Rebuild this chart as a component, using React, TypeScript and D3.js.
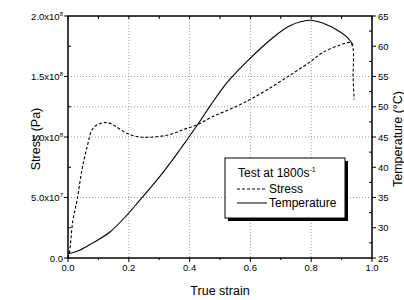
import React from "react";
import * as d3 from "d3";

// stress curve (strain, stress in Pa)
const stressStrain = [0, 0.005, 0.016, 0.03, 0.046, 0.063, 0.079, 0.095, 0.128, 0.155, 0.194, 0.237, 0.28, 0.335, 0.378, 0.424, 0.477, 0.543, 0.599, 0.655, 0.73, 0.796, 0.839, 0.895, 0.928, 0.937, 0.938, 0.941];
const stressVals = [0, 0.05e8, 0.31e8, 0.48e8, 0.73e8, 0.92e8, 1.06e8, 1.1e8, 1.12e8, 1.09e8, 1.03e8, 1.0e8, 1.0e8, 1.02e8, 1.06e8, 1.1e8, 1.17e8, 1.24e8, 1.31e8, 1.39e8, 1.51e8, 1.62e8, 1.7e8, 1.76e8, 1.78e8, 1.74e8, 1.5e8, 1.31e8];

// temperature curve (strain, °C)
const tempStrain = [0, 0.039, 0.082, 0.138, 0.194, 0.237, 0.293, 0.336, 0.368, 0.395, 0.434, 0.467, 0.523, 0.599, 0.664, 0.73, 0.796, 0.839, 0.885, 0.918, 0.938];
const tempVals = [25.7, 26.3, 27.5, 29.3, 32.1, 34.6, 37.9, 40.7, 42.9, 44.8, 47.6, 50.1, 54.0, 58.0, 61.0, 63.4, 64.3, 63.8, 62.7, 61.5, 60.2];

const xTicks = [0, 0.2, 0.4, 0.6, 0.8, 1.0];
const xMinor = [0.1, 0.3, 0.5, 0.7, 0.9];
const stressTicks = [0, 5e7, 1e8, 1.5e8, 2e8];
const stressMant = ["0.0", "5.0", "1.0", "1.5", "2.0"];
const stressExp = ["", "7", "8", "8", "8"];
const stressMinor = [2.5e7, 7.5e7, 1.25e8, 1.75e8];
const tempTicks = [25, 30, 35, 40, 45, 50, 55, 60, 65];
const tempMinor = [27.5, 32.5, 37.5, 42.5, 47.5, 52.5, 57.5, 62.5];
const gridX = [0.2, 0.4, 0.6, 0.8];
const gridStress = [5e7, 1e8, 1.25e8, 1.5e8];

const font = "'Liberation Sans', Arial, sans-serif";

export default function App() {
  const left = 68, right = 372, top = 16, bottom = 258;
  const x = d3.scaleLinear().domain([0, 1]).range([left, right]);
  const yS = d3.scaleLinear().domain([0, 2e8]).range([bottom, top]);
  const yT = d3.scaleLinear().domain([25, 65]).range([bottom, top]);

  const stressLine = d3
    .line<number>()
    .x((d, i) => x(stressStrain[i]))
    .y((d) => yS(d))
    .curve(d3.curveCatmullRom.alpha(0.5));
  const tempLine = d3
    .line<number>()
    .x((d, i) => x(tempStrain[i]))
    .y((d) => yT(d))
    .curve(d3.curveCatmullRom.alpha(0.5));

  const lx = 225, ly = 158, lw = 120, lh = 60;

  return (
    <svg width={404} height={300} style={{ position: "absolute", left: 0, top: 0, background: "#fff" }} fontFamily={font}>
      <rect width={404} height={300} fill="#fff" />
      {/* grid */}
      <g stroke="#888" strokeWidth={0.8} strokeDasharray="1,2">
        {gridX.map((g) => (
          <line key={"gx" + g} x1={x(g)} x2={x(g)} y1={top} y2={bottom} />
        ))}
        {gridStress.map((g) => (
          <line key={"gy" + g} x1={left} x2={right} y1={yS(g)} y2={yS(g)} />
        ))}
      </g>

      {/* curves */}
      <path d={tempLine(tempVals) || ""} fill="none" stroke="#000" strokeWidth={1.1} />
      <path d={stressLine(stressVals) || ""} fill="none" stroke="#000" strokeWidth={1.1} strokeDasharray="3,2" />

      {/* frame */}
      <rect x={left} y={top} width={right - left} height={bottom - top} fill="none" stroke="#000" strokeWidth={1.5} />

      {/* ticks */}
      <g stroke="#000" strokeWidth={1}>
        {xTicks.map((t) => (
          <line key={"xt" + t} x1={x(t)} x2={x(t)} y1={bottom} y2={bottom + 4} />
        ))}
        {xMinor.map((t) => (
          <line key={"xm" + t} x1={x(t)} x2={x(t)} y1={bottom} y2={bottom + 2} />
        ))}
        {[...xTicks, ...xMinor].map((t) => (
          <line key={"xtop" + t} x1={x(t)} x2={x(t)} y1={top} y2={top + 3} />
        ))}
        {stressTicks.map((t) => (
          <line key={"st" + t} x1={left - 4} x2={left} y1={yS(t)} y2={yS(t)} />
        ))}
        {stressMinor.map((t) => (
          <line key={"sm" + t} x1={left} x2={left + 3} y1={yS(t)} y2={yS(t)} />
        ))}
        {tempTicks.map((t) => (
          <line key={"tt" + t} x1={right} x2={right + 4} y1={yT(t)} y2={yT(t)} />
        ))}
        {tempMinor.map((t) => (
          <line key={"tm" + t} x1={right - 3} x2={right} y1={yT(t)} y2={yT(t)} />
        ))}
      </g>

      <g fontSize={9.5} fill="#000">
        {xTicks.map((t) => (
          <text key={"xl" + t} x={x(t)} y={bottom + 13} textAnchor="middle">
            {t.toFixed(1)}
          </text>
        ))}
        {stressTicks.map((t, i) => (
          <text key={"sl" + t} x={left - 5} y={yS(t) + 3.5} textAnchor="end">
            {stressMant[i]}
            {stressExp[i] && <tspan>x10</tspan>}
            {stressExp[i] && (
              <tspan fontSize={6} dy={-4}>
                {stressExp[i]}
              </tspan>
            )}
          </text>
        ))}
        {tempTicks.map((t) => (
          <text key={"tl" + t} x={right + 6} y={yT(t) + 3.5} textAnchor="start">
            {t}
          </text>
        ))}
      </g>

      {/* axis titles */}
      <text x={(left + right) / 2} y={295} textAnchor="middle" fontSize={12.5}>
        True strain
      </text>
      <text transform={`translate(40,${(top + bottom) / 2 + 2}) rotate(-90)`} textAnchor="middle" fontSize={12.5}>
        Stress (Pa)
      </text>
      <text transform={`translate(402,${(top + bottom) / 2 + 2}) rotate(-90)`} textAnchor="middle" fontSize={12.5}>
        Temperature (°C)
      </text>

      {/* legend */}
      <rect x={lx + 3} y={ly + 3} width={lw} height={lh} fill="#000" />
      <rect x={lx} y={ly} width={lw} height={lh} fill="#fff" stroke="#000" strokeWidth={1} />
      <text x={lx + 13} y={ly + 19} fontSize={12}>
        Test at 1800s
        <tspan fontSize={7} dy={-5}>-1</tspan>
      </text>
      <line x1={lx + 12} x2={lx + 42} y1={ly + 31} y2={ly + 31} stroke="#000" strokeDasharray="3,2" />
      <text x={lx + 44} y={ly + 35} fontSize={12}>
        Stress
      </text>
      <line x1={lx + 12} x2={lx + 42} y1={ly + 45} y2={ly + 45} stroke="#000" />
      <text x={lx + 44} y={ly + 49} fontSize={12}>
        Temperature
      </text>
    </svg>
  );
}
